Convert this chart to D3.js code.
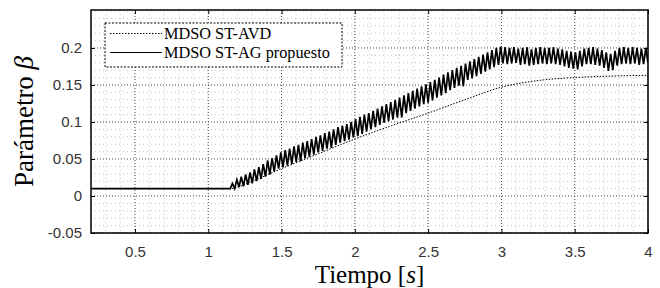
<!DOCTYPE html>
<html>
<head>
<meta charset="utf-8">
<script src="https://cdn.jsdelivr.net/npm/d3@7"></script>
<style>
  html, body { margin: 0; padding: 0; background: #fff; }
  svg { display: block; }
  .tick-label { font-family: "Liberation Sans", Arial, sans-serif; font-size: 15px; fill: #333; }
  .axis-title { font-family: "Liberation Serif", "DejaVu Serif", serif; font-size: 25px; fill: #000; }
  .legend-text { font-family: "Liberation Serif", "DejaVu Serif", serif; font-size: 16.3px; fill: #000; }
</style>
</head>
<body>
<div id="chart"></div>
<script>
// ---- data ----
const xTicks = [0.5, 1, 1.5, 2, 2.5, 3, 3.5, 4];
const xTickLabels = ["0.5", "1", "1.5", "2", "2.5", "3", "3.5", "4"];
const yTicks = [-0.05, 0, 0.05, 0.1, 0.15, 0.2];
const yTickLabels = ["-0.05", "0", "0.05", "0.1", "0.15", "0.2"];
const seriesNames = ["MDSO ST-AVD", "MDSO ST-AG propuesto"];

// MDSO ST-AVD (dotted, smooth)
const avdTime = [0.2, 1.15, 1.3, 1.5, 1.75, 2.0, 2.25, 2.5, 2.75, 3.0, 3.25, 3.5, 3.75, 4.0];
const avdValue = [0.01, 0.01, 0.02, 0.037, 0.057, 0.077, 0.095, 0.112, 0.13, 0.147, 0.156, 0.16, 0.162, 0.163];

// MDSO ST-AG propuesto (solid): flat part, then sampled oscillation
const agFlatTime = [0.2, 1.15];
const agFlatValue = [0.01, 0.01];
const agStart = 1.15;
const agStep = 0.015;
const agValue = [
  0.010, 0.017, 0.010, 0.022, 0.012, 0.026, 0.013, 0.029, 0.015, 0.032,
  0.017, 0.036, 0.020, 0.039, 0.023, 0.043, 0.026, 0.048, 0.029, 0.051,
  0.033, 0.055, 0.037, 0.059, 0.039, 0.062, 0.041, 0.064, 0.043, 0.067,
  0.046, 0.069, 0.047, 0.072, 0.051, 0.074, 0.053, 0.077, 0.056, 0.080,
  0.059, 0.082, 0.061, 0.085, 0.064, 0.087, 0.065, 0.090, 0.069, 0.093,
  0.072, 0.095, 0.074, 0.097, 0.076, 0.100, 0.079, 0.104, 0.081, 0.107,
  0.084, 0.110, 0.087, 0.112, 0.090, 0.115, 0.093, 0.118, 0.096, 0.121,
  0.099, 0.124, 0.101, 0.127, 0.103, 0.130, 0.106, 0.133, 0.106, 0.136,
  0.112, 0.139, 0.115, 0.142, 0.118, 0.145, 0.121, 0.148, 0.124, 0.151,
  0.126, 0.154, 0.129, 0.157, 0.133, 0.160, 0.136, 0.164, 0.139, 0.167,
  0.143, 0.170, 0.146, 0.173, 0.149, 0.176, 0.148, 0.179, 0.157, 0.182,
  0.159, 0.185, 0.162, 0.188, 0.165, 0.191, 0.168, 0.194, 0.171, 0.197,
  0.174, 0.200, 0.177, 0.202, 0.179, 0.201, 0.178, 0.200, 0.179, 0.201,
  0.180, 0.199, 0.177, 0.200, 0.178, 0.201, 0.176, 0.198, 0.177, 0.200,
  0.178, 0.201, 0.179, 0.200, 0.178, 0.200, 0.179, 0.201, 0.178, 0.199,
  0.177, 0.198, 0.175, 0.196, 0.173, 0.195, 0.172, 0.194, 0.171, 0.196,
  0.175, 0.199, 0.178, 0.200, 0.178, 0.201, 0.177, 0.199, 0.176, 0.197,
  0.173, 0.194, 0.169, 0.192, 0.170, 0.196, 0.176, 0.200, 0.178, 0.201,
  0.179, 0.200, 0.178, 0.201, 0.179, 0.200, 0.177, 0.199, 0.178, 0.200,
  0.180
];

const WIDTH = 660;
const HEIGHT = 288;
const plot = {left: 91, right: 648, top: 10, bottom: 233};

const svg = d3.select("#chart").append("svg")
    .attr("width", WIDTH)
    .attr("height", HEIGHT);

const x = d3.scaleLinear().domain([0.2, 4]).range([plot.left, plot.right]);
const y = d3.scaleLinear().domain([-0.05, 0.2513]).range([plot.bottom, plot.top]);

// grid: minor first, then major
const minorX = d3.range(3, 40).map(d => d / 10);
const minorY = d3.range(-4, 26).map(d => d / 100);

const grid = svg.append("g");
grid.selectAll("line.minor-x")
    .data(minorX.filter(v => !xTicks.some(t => Math.abs(t - v) < 1e-6)))
    .join("line")
    .attr("x1", d => x(d)).attr("x2", d => x(d))
    .attr("y1", plot.top).attr("y2", plot.bottom)
    .attr("stroke", "#c4c4c4").attr("stroke-width", 1)
    .attr("stroke-dasharray", "1,3");
grid.selectAll("line.minor-y")
    .data(minorY.filter(v => !yTicks.some(t => Math.abs(t - v) < 1e-6)))
    .join("line")
    .attr("x1", plot.left).attr("x2", plot.right)
    .attr("y1", d => y(d)).attr("y2", d => y(d))
    .attr("stroke", "#c4c4c4").attr("stroke-width", 1)
    .attr("stroke-dasharray", "1,3");
grid.selectAll("line.major-x")
    .data(xTicks)
    .join("line")
    .attr("x1", d => x(d)).attr("x2", d => x(d))
    .attr("y1", plot.top).attr("y2", plot.bottom)
    .attr("stroke", "#444").attr("stroke-width", 1)
    .attr("stroke-dasharray", "1,2");
grid.selectAll("line.major-y")
    .data(yTicks)
    .join("line")
    .attr("x1", plot.left).attr("x2", plot.right)
    .attr("y1", d => y(d)).attr("y2", d => y(d))
    .attr("stroke", "#444").attr("stroke-width", 1)
    .attr("stroke-dasharray", "1,2");

// clip for the series
svg.append("clipPath").attr("id", "clip")
    .append("rect")
    .attr("x", plot.left).attr("y", plot.top)
    .attr("width", plot.right - plot.left).attr("height", plot.bottom - plot.top);

const avdData = avdTime.map((t, i) => [t, avdValue[i]]);
const agData = agFlatTime.map((t, i) => [t, agFlatValue[i]])
    .concat(agValue.map((v, i) => [agStart + i * agStep, v]));

const smoothLine = d3.line()
    .x(d => x(d[0])).y(d => y(d[1]))
    .curve(d3.curveMonotoneX);
const rawLine = d3.line()
    .x(d => x(d[0])).y(d => y(d[1]));

const series = svg.append("g").attr("clip-path", "url(#clip)");
series.append("path")
    .datum(avdData)
    .attr("d", smoothLine)
    .attr("fill", "none")
    .attr("stroke", "#000")
    .attr("stroke-width", 1)
    .attr("stroke-dasharray", "1.5,1.5");
series.append("path")
    .datum(agData)
    .attr("d", rawLine)
    .attr("fill", "none")
    .attr("stroke", "#000")
    .attr("stroke-width", 1.7);

// axes with inward ticks (MATLAB style)
const xAxisBottom = d3.axisBottom(x).tickValues(xTicks)
    .tickSizeInner(-4).tickSizeOuter(0).tickPadding(13)
    .tickFormat((d, i) => xTickLabels[i]);
const xAxisTop = d3.axisTop(x).tickValues(xTicks)
    .tickSizeInner(-4).tickSizeOuter(0).tickFormat("");
const yAxisLeft = d3.axisLeft(y).tickValues(yTicks)
    .tickSizeInner(-4).tickSizeOuter(0).tickPadding(9)
    .tickFormat((d, i) => yTickLabels[i]);
const yAxisRight = d3.axisRight(y).tickValues(yTicks)
    .tickSizeInner(-4).tickSizeOuter(0).tickFormat("");

function styleAxis(g) {
    g.select(".domain").remove();
    g.selectAll(".tick line").attr("stroke", "#000").attr("stroke-width", 1);
    g.selectAll(".tick text").attr("class", "tick-label").attr("fill", null);
}

svg.append("g").attr("transform", `translate(0,${plot.bottom})`).call(xAxisBottom).call(styleAxis);
svg.append("g").attr("transform", `translate(0,${plot.top})`).call(xAxisTop).call(styleAxis);
svg.append("g").attr("transform", `translate(${plot.left},0)`).call(yAxisLeft).call(styleAxis);
svg.append("g").attr("transform", `translate(${plot.right},0)`).call(yAxisRight).call(styleAxis);

// box
svg.append("rect")
    .attr("x", plot.left).attr("y", plot.top)
    .attr("width", plot.right - plot.left).attr("height", plot.bottom - plot.top)
    .attr("fill", "none").attr("stroke", "#000").attr("stroke-width", 1.5);

// axis titles
const xTitle = svg.append("text")
    .attr("class", "axis-title")
    .attr("x", (plot.left + plot.right) / 2)
    .attr("y", 283)
    .attr("text-anchor", "middle");
xTitle.append("tspan").text("Tiempo [");
xTitle.append("tspan").attr("font-style", "italic").text("s");
xTitle.append("tspan").text("]");

const yTitle = svg.append("text")
    .attr("class", "axis-title")
    .attr("font-size", "27px")
    .style("font-size", "27px")
    .attr("transform", `translate(33,${(plot.top + plot.bottom) / 2}) rotate(-90)`)
    .attr("text-anchor", "middle");
yTitle.append("tspan").text("Parámetro ");
yTitle.append("tspan").attr("font-style", "italic").text("β");

// legend
const legend = svg.append("g");
legend.append("rect")
    .attr("x", 105).attr("y", 23).attr("width", 237).attr("height", 44)
    .attr("fill", "#fff").attr("stroke", "#000").attr("stroke-width", 1)
    .attr("stroke-dasharray", "2,1.5");

const legendRows = legend.selectAll("g.row")
    .data(seriesNames)
    .join("g")
    .attr("transform", (d, i) => `translate(110,${33.5 + i * 19})`);
legendRows.append("line")
    .attr("x1", 0).attr("x2", 52)
    .attr("stroke", "#000").attr("stroke-width", 1)
    .attr("stroke-dasharray", (d, i) => i === 0 ? "1.5,1.5" : null);
legendRows.append("text")
    .attr("class", "legend-text")
    .attr("x", 54).attr("dy", "0.35em")
    .text(d => d);
</script>
</body>
</html>
